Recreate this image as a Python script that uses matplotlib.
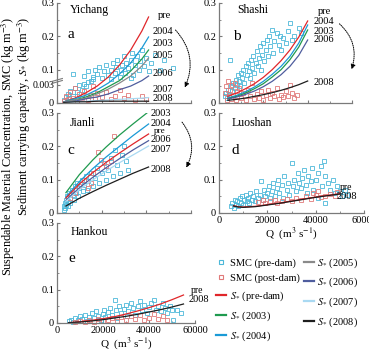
import numpy as np
import matplotlib
matplotlib.use("Agg")
import matplotlib.pyplot as plt
from matplotlib.lines import Line2D

plt.rcParams['font.family'] = ['Liberation Serif', 'DejaVu Serif']
plt.rcParams['mathtext.fontset'] = 'stix'

# colours of the S* curves
colors = {'pre': '#e0262a', '2003': '#1f9a4f', '2004': '#1a9ad6', '2005': '#8a8a8a',
          '2006': '#4f5d9e', '2007': '#a9d9f2', '2008': '#1e1e1e'}
c_pre_pts = '#4cb8d9'
c_post_pts = '#e07a7a'

# ---------------- Yichang (a) ----------------
a_curve_q = [3000, 8000, 13000, 18000, 23000, 28000, 33000, 38000, 41000]
a_curves = {
    'pre':  [0.00017, 0.0008, 0.0017, 0.0028, 0.078, 0.114, 0.159, 0.216, 0.258],
    '2004': [0.00017, 0.0007, 0.0013, 0.0022, 0.0033, 0.087, 0.120, 0.165, 0.198],
    '2003': [0.00017, 0.0005, 0.0010, 0.0017, 0.0027, 0.0037, 0.096, 0.132, 0.159],
    '2005': [0.00017, 0.0005, 0.0008, 0.0015, 0.0023, 0.0033, 0.081, 0.111, 0.135],
    '2006': [0.0001, 0.0003, 0.0007, 0.0010, 0.0015, 0.0022, 0.0028, 0.0037, 0.081],
    '2007': [0.0001, 0.0002, 0.0003, 0.0004, 0.0005, 0.0006, 0.0007, 0.0008, 0.0009],
    '2008': [0.0001, 0.0002, 0.0002, 0.0003, 0.0003, 0.0003, 0.0003, 0.0003, 0.0003],
}
a_pre_q = [7000, 12000, 14000, 16000, 17000, 18000, 19000, 20000, 21000, 22000, 23000, 24000,
           25000, 26000, 26500, 27000, 28000, 28500, 29000, 30000, 30500, 31000, 32000, 33000,
           33500, 34000, 35000, 36000, 36500, 37000, 38000, 39000, 40000, 41000, 42000, 44000,
           46000, 48000, 52000, 16000, 24000, 33000,
           3000, 4000, 5000, 5500, 6000, 7000, 8000, 9000, 10000, 11000, 12000, 13000, 14000,
           15000, 4500]
a_pre_v = [0.087, 0.082, 0.095, 0.078, 0.1, 0.088, 0.108, 0.075, 0.095, 0.115, 0.083, 0.1,
           0.12, 0.09, 0.108, 0.13, 0.078, 0.1, 0.115, 0.14, 0.09, 0.12, 0.105, 0.13,
           0.15, 0.085, 0.115, 0.14, 0.1, 0.125, 0.16, 0.11, 0.135, 0.095, 0.12, 0.145,
           0.1, 0.13, 0.105, 0.072, 0.072, 0.074,
           0.0005, 0.001, 0.0015, 0.0008, 0.002, 0.0012, 0.0025, 0.0018, 0.003, 0.0022, 0.0032,
           0.0028, 0.0035, 0.0036, 0.0003]
a_post_q = [3000, 4000, 5000, 6000, 7000, 8000, 9000, 10000, 11000, 12000, 13000, 14000, 15000,
            16000, 17000, 18000, 20000, 22000, 24000, 26000, 28000, 30000, 32000, 35000, 38000, 40000]
a_post_v = [0.0003, 0.0012, 0.0006, 0.0018, 0.0009, 0.0025, 0.0004, 0.0015, 0.0008, 0.002, 0.0011,
            0.0005, 0.0013, 0.0028, 0.0007, 0.0016, 0.001, 0.0019, 0.0006, 0.0012, 0.0022, 0.0008,
            0.0014, 0.0005, 0.0011, 0.0006]

# ---------------- Shashi (b) ----------------
b_curve_q = [4000, 8000, 12000, 16000, 20000, 24000, 28000, 32000, 36000, 40000]
b_curves = {
    'pre':  [0.020, 0.030, 0.043, 0.058, 0.077, 0.100, 0.127, 0.159, 0.198, 0.246],
    '2004': [0.015, 0.023, 0.034, 0.048, 0.065, 0.086, 0.110, 0.140, 0.180, 0.234],
    '2003': [0.013, 0.020, 0.030, 0.043, 0.058, 0.078, 0.100, 0.130, 0.168, 0.219],
    '2006': [0.012, 0.018, 0.026, 0.036, 0.049, 0.065, 0.085, 0.110, 0.143, 0.189],
    '2008': [0.008, 0.011, 0.015, 0.020, 0.025, 0.031, 0.038, 0.046, 0.055, 0.066],
}
b_pre_q = [2500, 3000, 3500, 4000, 4500, 5000, 5500, 6000, 6500, 7000, 7500, 8000, 8500, 9000,
           9500, 10000, 10500, 11000, 11500, 12000, 12500, 13000, 13500, 14000, 14500, 15000,
           15500, 16000, 16500, 17000, 17500, 18000, 18500, 19000, 19500, 20000, 20500, 21000,
           21500, 22000, 22500, 23000, 24000, 24500, 25000, 26000, 27000, 27500, 28000, 29000,
           30000, 31000, 32000, 33000, 34000, 36000, 37000]
b_pre_v = [0.02, 0.03, 0.015, 0.04, 0.025, 0.13, 0.05, 0.035, 0.06, 0.045, 0.07, 0.055, 0.085,
           0.065, 0.05, 0.09, 0.075, 0.1, 0.06, 0.11, 0.085, 0.12, 0.095, 0.075, 0.13, 0.105,
           0.14, 0.09, 0.12, 0.155, 0.11, 0.135, 0.17, 0.1, 0.145, 0.18, 0.125, 0.16, 0.19, 0.14,
           0.2, 0.17, 0.22, 0.15, 0.185, 0.21, 0.175, 0.2, 0.16, 0.195, 0.18, 0.215, 0.24, 0.19,
           0.2, 0.225, 0.21]
b_post_q = [2500, 3000, 3500, 4000, 4500, 5000, 5500, 6000, 6500, 7000, 7500, 8000, 9000, 10000,
            11000, 12000, 13000, 14000, 15000, 16000, 17000, 18000, 19000, 20000, 21000, 22000,
            23000, 24000, 25000, 26000, 27000, 28000, 29000, 30000, 31000, 32000, 33000, 34000, 35000]
b_post_v = [0.03, 0.05, 0.01, 0.065, 0.02, 0.04, 0.012, 0.055, 0.025, 0.06, 0.008, 0.035, 0.045,
            0.015, 0.03, 0.01, 0.04, 0.02, 0.06, 0.012, 0.028, 0.015, 0.035, 0.01, 0.025, 0.04,
            0.014, 0.03, 0.02, 0.045, 0.012, 0.025, 0.018, 0.035, 0.02, 0.055, 0.03, 0.015, 0.025]

# ---------------- Jianli (c) ----------------
c_curve_q = [4000, 10000, 16000, 22000, 28000, 34000, 41000]
c_curves = {
    '2003': [0.061, 0.115, 0.159, 0.198, 0.234, 0.267, 0.304],
    '2004': [0.048, 0.094, 0.133, 0.168, 0.200, 0.232, 0.267],
    'pre':  [0.045, 0.087, 0.121, 0.152, 0.180, 0.207, 0.237],
    '2006': [0.038, 0.0755, 0.107, 0.136, 0.163, 0.189, 0.217],
    '2007': [0.035, 0.070, 0.099, 0.126, 0.151, 0.174, 0.201],
    '2008': [0.021, 0.044, 0.064, 0.083, 0.101, 0.119, 0.138],
}
c_pre_q = [3000, 3200, 3500, 3700, 4000, 4200, 4500, 4800, 5000, 5300, 5600, 6000, 6500, 7000,
           7500, 8000, 8500, 9000, 9500, 10000, 11000, 11500, 12000, 13000, 13500, 14000, 15000,
           16000, 17000, 18000, 19000, 20000, 21000, 22000, 23000, 24000, 25000, 26000, 27000,
           28000, 29000, 30000, 31000, 32000]
c_pre_v = [0.01, 0.02, 0.03, 0.015, 0.04, 0.025, 0.05, 0.02, 0.035, 0.06, 0.045, 0.03, 0.07,
           0.055, 0.04, 0.08, 0.06, 0.09, 0.05, 0.075, 0.1, 0.065, 0.085, 0.11, 0.07, 0.095, 0.12,
           0.08, 0.105, 0.135, 0.09, 0.12, 0.15, 0.1, 0.13, 0.165, 0.11, 0.19, 0.145, 0.12, 0.175,
           0.2, 0.155, 0.13]
c_post_q = [25700, 19700, 18500, 8000, 10000, 12000, 14000, 16000, 22000, 15000, 6000, 24000]
c_post_v = [0.231, 0.16, 0.183, 0.06, 0.08, 0.1, 0.075, 0.12, 0.14, 0.09, 0.045, 0.155]

# ---------------- Luoshan (d) ----------------
d_curve_q = [6000, 8000, 10000, 15000, 20000, 25000, 30000, 35000, 40000, 45000, 50000]
d_curves = {
    'pre':  [0.022, 0.019, 0.018, 0.020, 0.025, 0.030, 0.036, 0.042, 0.048, 0.053, 0.058],
    '2008': [0.021, 0.018, 0.017, 0.019, 0.024, 0.029, 0.035, 0.041, 0.047, 0.052, 0.057],
}
d_pre_q = [5000, 5500, 6000, 6500, 7000, 7500, 8000, 8500, 9000, 9500, 10000, 10500, 11000,
           11500, 12000, 12500, 13000, 13500, 14000, 15000, 15500, 16000, 17000, 17500, 18000,
           18500, 19000, 20000, 20500, 21000, 22000, 22500, 23000, 24000, 24500, 25000, 26000,
           26500, 27000, 28000, 28500, 29000, 30000, 30500, 31000, 32000, 32500, 33000, 34000,
           34500, 35000, 36000, 36500, 37000, 38000, 38500, 39000, 40000, 41000, 42000, 42500,
           43500, 44000, 45000, 46000, 47000, 48000, 49000, 50000, 51000, 52000, 53000, 44000, 41000]
d_pre_v = [0.02, 0.03, 0.015, 0.04, 0.025, 0.035, 0.02, 0.045, 0.03, 0.05, 0.025, 0.04, 0.055,
           0.035, 0.045, 0.03, 0.06, 0.04, 0.05, 0.035, 0.065, 0.045, 0.055, 0.095, 0.04, 0.07,
           0.05, 0.06, 0.08, 0.045, 0.065, 0.09, 0.05, 0.075, 0.1, 0.06, 0.085, 0.045, 0.11,
           0.07, 0.09, 0.055, 0.15, 0.08, 0.1, 0.065, 0.12, 0.09, 0.075, 0.105, 0.13, 0.085, 0.06,
           0.11, 0.095, 0.135, 0.07, 0.1, 0.12, 0.14, 0.08, 0.155, 0.11, 0.09, 0.07, 0.1, 0.06,
           0.08, 0.065, 0.05, 0.07, 0.055, 0.03, 0.045]
d_post_q = [16000, 18000, 19000, 21000, 23000, 24000, 26000, 28000, 30000, 32000, 34000, 36000,
            38000, 39000, 40000, 41000, 42000, 44000, 46000, 48000, 49000]
d_post_v = [0.032, 0.038, 0.03, 0.035, 0.04, 0.03, 0.037, 0.042, 0.035, 0.045, 0.04, 0.05, 0.043,
            0.06, 0.055, 0.065, 0.048, 0.052, 0.058, 0.05, 0.062]

# ---------------- Hankou (e) ----------------
e_curve_q = [5000, 10000, 15000, 20000, 25000, 30000, 35000, 40000, 45000, 50000, 55000]
e_curves = {
    'pre':  [0.001, 0.004, 0.008, 0.013, 0.019, 0.027, 0.036, 0.046, 0.057, 0.070, 0.084],
    '2008': [0.001, 0.003, 0.006, 0.010, 0.015, 0.020, 0.026, 0.033, 0.040, 0.048, 0.057],
}
e_pre_q = [5000, 6000, 7000, 8000, 9000, 10000, 11000, 12000, 13000, 14000, 15000, 16000, 17000,
           18000, 19000, 20000, 20500, 21000, 22000, 23000, 24000, 25000, 25500, 26000, 27000,
           28000, 29000, 30000, 30500, 31000, 32000, 33000, 34000, 35000, 36000, 37000, 38000,
           39000, 40000, 41000, 42000, 43000, 44000, 45000, 46000, 47000, 48000, 49000, 50000,
           50600, 52000, 54000]
e_pre_v = [0.005, 0.01, 0.003, 0.015, 0.008, 0.02, 0.012, 0.025, 0.006, 0.018, 0.03, 0.014, 0.035,
           0.022, 0.01, 0.028, 0.04, 0.018, 0.033, 0.045, 0.025, 0.069, 0.038, 0.015, 0.05, 0.03,
           0.042, 0.055, 0.02, 0.035, 0.06, 0.045, 0.025, 0.05, 0.065, 0.038, 0.055, 0.03, 0.047,
           0.06, 0.069, 0.04, 0.052, 0.035, 0.06, 0.045, 0.03, 0.05, 0.038, 0.009, 0.04, 0.03]
e_post_q = [8000, 10000, 12000, 14000, 16000, 18000, 20000, 22000, 24000, 26000, 28000, 30000,
            32000, 34000, 36000, 38000, 40000, 42000, 44000, 46000, 48000]
e_post_v = [0.003, 0.006, 0.002, 0.008, 0.004, 0.012, 0.005, 0.01, 0.015, 0.007, 0.018, 0.01,
            0.02, 0.013, 0.025, 0.008, 0.016, 0.028, 0.012, 0.02, 0.01]

W, H = 369, 350
fig = plt.figure(figsize=(W / 100, H / 100), dpi=100)


def px_axes(left, top, right, bottom):
    return fig.add_axes([left / W, 1 - bottom / H, (right - left) / W, (bottom - top) / H])


def style(ax, xlabels=False):
    for s in ['top', 'right']:
        ax.spines[s].set_visible(False)
    for s in ['left', 'bottom']:
        ax.spines[s].set_color('#7a7a7a')
        ax.spines[s].set_linewidth(0.9)
    ax.set_xlim(0, 60000)
    ax.set_ylim(0, 0.3)
    ax.set_xticks([0, 20000, 40000, 60000])
    ax.set_xticks([10000, 30000, 50000], minor=True)
    ax.tick_params(which='both', direction='in', color='#7a7a7a', labelsize=7.5, pad=2)
    ax.tick_params(which='major', length=2.5)
    ax.tick_params(which='minor', length=1.5)
    if xlabels:
        ax.set_xticklabels(['0', '20000', '40000', '60000'])
        ax.set_xlabel(r'Q  (m$^3$ s$^{-1}$)', fontsize=8, labelpad=0)
    else:
        ax.set_xticklabels([])


def draw(ax, curve_q, curves, pre_q, pre_v, post_q, post_v):
    ax.plot(pre_q, pre_v, 's', ms=2.6, mfc='none', mec=c_pre_pts, mew=0.6, clip_on=False)
    ax.plot(post_q, post_v, 's', ms=2.6, mfc='none', mec=c_post_pts, mew=0.6, clip_on=False)
    for k, v in curves.items():
        ax.plot(curve_q, v, '-', color=colors[k], lw=0.9)


def dotted_arrow(ax, start, end):
    ax.annotate('', xy=end, xytext=start, xycoords='axes fraction',
                arrowprops=dict(arrowstyle='-|>', ls=(0, (1, 1.2)), lw=0.7, color='k',
                                connectionstyle='arc3,rad=-0.35', mutation_scale=7))


# panel a with broken y axis
def fwd(v):
    return np.interp(v, [0, 0.0038, 0.07, 1.0], [0, 0.069, 0.07, 1.0])


def inv(y):
    return np.interp(y, [0, 0.069, 0.07, 1.0], [0, 0.0038, 0.07, 1.0])


ax_a = px_axes(57, 3, 191, 103)
ax_a.set_yscale('function', functions=(fwd, inv))
style(ax_a)
ax_a.set_yticks([0, 0.003, 0.1, 0.2, 0.3])
ax_a.set_yticklabels(['0', '0.003', '0.1', '0.2', '0.3'])
ax_a.get_yticklabels()[1].set_fontsize(7)
ax_a.set_yticks([0.15, 0.25], minor=True)
draw(ax_a, a_curve_q, a_curves, a_pre_q, a_pre_v, a_post_q, a_post_v)
ax_a.plot([-0.04, 0.04], [0.215, 0.245], transform=ax_a.transAxes, color='#7a7a7a', lw=0.8, clip_on=False)
ax_a.plot([-0.04, 0.04], [0.195, 0.225], transform=ax_a.transAxes, color='#7a7a7a', lw=0.8, clip_on=False)
ax_a.text(0.097, 0.93, 'Yichang', transform=ax_a.transAxes, fontsize=8.5, va='center')
ax_a.text(0.075, 0.68, 'a', transform=ax_a.transAxes, fontsize=11, va='center')
for lab, y in [('pre', 0.264), ('2004', 0.213), ('2003', 0.18), ('2005', 0.144), ('2006', 0.09),
               ('2007', 0.0022), ('2008', 0.0007)]:
    ax_a.text(43000 if lab != 'pre' else 45000, y, lab, fontsize=7.5, va='center', clip_on=False)
dotted_arrow(ax_a, (0.87, 0.75), (0.945, 0.13))

# panel b
ax_b = px_axes(219, 3, 352, 103)
style(ax_b)
ax_b.set_yticks([0, 0.1, 0.2, 0.3])
ax_b.set_yticklabels(['0', '0.1', '0.2', '0.3'])
ax_b.set_yticks([0.05, 0.15, 0.25], minor=True)
draw(ax_b, b_curve_q, b_curves, b_pre_q, b_pre_v, b_post_q, b_post_v)
ax_b.text(0.135, 0.93, 'Shashi', transform=ax_b.transAxes, fontsize=8.5, va='center')
ax_b.text(0.105, 0.66, 'b', transform=ax_b.transAxes, fontsize=11, va='center')
for lab, y in [('pre', 0.273), ('2004', 0.243), ('2003', 0.216), ('2006', 0.189), ('2008', 0.062)]:
    ax_b.text(42800 if lab != 'pre' else 44500, y, lab, fontsize=7.5, va='center', clip_on=False)
dotted_arrow(ax_b, (0.89, 0.81), (0.99, 0.31))

# panel c
ax_c = px_axes(57, 113, 191, 213)
style(ax_c)
ax_c.set_yticks([0, 0.1, 0.2, 0.3])
ax_c.set_yticklabels(['0', '0.1', '0.2', '0.3'])
ax_c.set_yticks([0.05, 0.15, 0.25], minor=True)
draw(ax_c, c_curve_q, c_curves, c_pre_q, c_pre_v, c_post_q, c_post_v)
ax_c.text(0.097, 0.9, 'Jianli', transform=ax_c.transAxes, fontsize=8.5, va='center')
ax_c.text(0.08, 0.63, 'c', transform=ax_c.transAxes, fontsize=11, va='center')
for lab, y in [('2003', 0.3), ('2004', 0.27), ('pre', 0.246), ('2006', 0.219), ('2007', 0.189),
               ('2008', 0.129)]:
    ax_c.text(41700 if lab != 'pre' else 43500, y, lab, fontsize=7.5 if lab != 'pre' else 6.5,
              va='center', clip_on=False)
dotted_arrow(ax_c, (0.92, 0.93), (0.955, 0.43))

# panel d
ax_d = px_axes(219, 113, 364, 213)
style(ax_d, xlabels=True)
ax_d.set_yticks([0, 0.1, 0.2, 0.3])
ax_d.set_yticklabels(['0', '0.1', '0.2', '0.3'])
ax_d.set_yticks([0.05, 0.15, 0.25], minor=True)
draw(ax_d, d_curve_q, d_curves, d_pre_q, d_pre_v, d_post_q, d_post_v)
ax_d.text(0.088, 0.9, 'Luoshan', transform=ax_d.transAxes, fontsize=8.5, va='center')
ax_d.text(0.088, 0.63, 'd', transform=ax_d.transAxes, fontsize=11, va='center')
ax_d.text(50000, 0.075, 'pre', fontsize=7, va='center')
ax_d.text(48500, 0.049, '2008', fontsize=7.5, va='center')

# panel e
ax_e = px_axes(57, 223, 195, 323)
style(ax_e, xlabels=True)
ax_e.set_yticks([0, 0.1, 0.2, 0.3])
ax_e.set_yticklabels(['0', '0.1', '0.2', '0.3'])
ax_e.set_yticks([0.05, 0.15, 0.25], minor=True)
draw(ax_e, e_curve_q, e_curves, e_pre_q, e_pre_v, e_post_q, e_post_v)
ax_e.text(0.097, 0.91, 'Hankou', transform=ax_e.transAxes, fontsize=8.5, va='center')
ax_e.text(0.08, 0.65, 'e', transform=ax_e.transAxes, fontsize=11, va='center')
ax_e.text(58000, 0.097, 'pre', fontsize=7, va='center', clip_on=False)
ax_e.text(57000, 0.07, '2008', fontsize=7.5, va='center', clip_on=False)

# y label, two lines
fig.text(16 / W, 1 - 146 / H,
         'Suspendable Material Concentration, SMC (kg m$^{-3}$)\n'
         r'Sediment carrying capacity, $\mathit{S}_{*}$ (kg m$^{-3}$)',
         rotation=90, ha='center', va='center', fontsize=8.8, multialignment='right',
         linespacing=0.9)

# legend
handles = [Line2D([], [], ls='', marker='s', ms=2.6, mfc='none', mec=c_pre_pts, mew=0.8),
           Line2D([], [], ls='', marker='s', ms=2.6, mfc='none', mec=c_post_pts, mew=0.8)]
labels = ['SMC (pre-dam)', 'SMC (post-dam)']
for k in ['pre', '2003', '2004', '2005', '2006', '2007', '2008']:
    handles.append(Line2D([], [], color=colors[k], lw=1.6))
    labels.append(r'$\mathit{S}_{*}$ (%s)' % ('pre-dam' if k == 'pre' else k))
fig.legend(handles, labels, loc='upper left', bbox_to_anchor=(216 / W, 1 - 256 / H), ncol=2,
           frameon=False, fontsize=7.5, handlelength=1.0, handletextpad=0.3, columnspacing=0.4,
           labelspacing=0.6, borderpad=0, borderaxespad=0)

fig.savefig('out.png', dpi=100)
